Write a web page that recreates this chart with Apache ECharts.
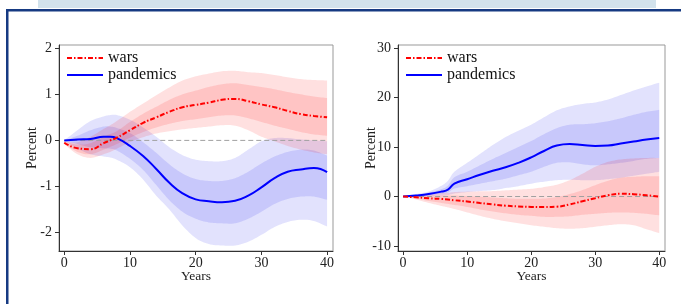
<!DOCTYPE html>
<html>
<head>
<meta charset="utf-8">
<script src="https://cdn.jsdelivr.net/npm/echarts@6/dist/echarts.min.js"></script>
<style>
  html, body { margin: 0; padding: 0; background: #fff; }
  #chart { width: 681px; height: 304px; }
</style>
</head>
<body>
<div id="chart"></div>
<script>
// horizon in years
const years = [0, 2, 4, 6, 7, 8, 10, 12, 14, 16, 18, 20, 22, 24, 26, 28, 30, 32, 34, 36, 38, 40];
const xTicks = [0, 10, 20, 30, 40];
const yTicksLeft = [-2, -1, 0, 1, 2];
const yTicksRight = [-10, 0, 10, 20, 30];

// left panel
const warsL = [-0.05, -0.17, -0.19, -0.06, 0.0, 0.06, 0.22, 0.38, 0.5, 0.62, 0.72, 0.77, 0.82, 0.88, 0.9, 0.85, 0.78, 0.72, 0.64, 0.57, 0.53, 0.5];
const warsL68lo = [-0.07, -0.25, -0.3, -0.2, -0.14, -0.08, 0.06, 0.18, 0.28, 0.36, 0.42, 0.46, 0.5, 0.54, 0.54, 0.48, 0.4, 0.32, 0.25, 0.18, 0.13, 0.1];
const warsL68hi = [-0.03, -0.09, -0.06, 0.08, 0.14, 0.2, 0.4, 0.58, 0.73, 0.88, 1.0, 1.08, 1.16, 1.22, 1.24, 1.2, 1.16, 1.11, 1.05, 1.0, 0.95, 0.92];
const warsL90lo = [-0.08, -0.3, -0.38, -0.3, -0.25, -0.18, -0.04, 0.07, 0.15, 0.2, 0.24, 0.27, 0.3, 0.33, 0.32, 0.22, 0.08, -0.02, -0.12, -0.2, -0.26, -0.3];
const warsL90hi = [-0.02, -0.04, 0.08, 0.25, 0.33, 0.42, 0.62, 0.8, 0.98, 1.15, 1.3, 1.39, 1.45, 1.5, 1.51, 1.48, 1.46, 1.42, 1.37, 1.33, 1.31, 1.3];
const pandL = [0, 0.02, 0.03, 0.08, 0.08, 0.05, -0.12, -0.34, -0.62, -0.92, -1.15, -1.28, -1.32, -1.34, -1.31, -1.2, -1.02, -0.82, -0.68, -0.63, -0.6, -0.69];
const pandL68lo = [0, -0.08, -0.15, -0.17, -0.18, -0.22, -0.4, -0.64, -0.97, -1.3, -1.55, -1.7, -1.78, -1.8, -1.8, -1.7, -1.55, -1.38, -1.27, -1.22, -1.22, -1.29];
const pandL68hi = [0, 0.1, 0.22, 0.3, 0.3, 0.27, 0.16, -0.04, -0.27, -0.52, -0.72, -0.84, -0.88, -0.88, -0.82, -0.68, -0.5, -0.35, -0.25, -0.2, -0.22, -0.33];
const pandL90lo = [0, -0.18, -0.3, -0.35, -0.37, -0.42, -0.58, -0.85, -1.2, -1.5, -1.85, -2.12, -2.25, -2.28, -2.28, -2.2, -2.05, -1.88, -1.77, -1.72, -1.75, -1.87];
const pandL90hi = [0, 0.22, 0.42, 0.52, 0.55, 0.55, 0.45, 0.28, 0.08, -0.15, -0.32, -0.42, -0.45, -0.45, -0.38, -0.2, -0.02, 0.05, 0.05, 0.02, 0.0, -0.02];

// right panel
const warsR = [0, -0.15, -0.35, -0.5, -0.6, -0.75, -1.0, -1.3, -1.6, -1.85, -2.0, -2.1, -2.13, -2.05, -1.6, -0.95, -0.35, 0.25, 0.55, 0.48, 0.25, 0.0];
const warsR68lo = [0, -0.4, -0.9, -1.3, -1.5, -1.7, -2.1, -2.6, -3.0, -3.4, -3.7, -3.9, -4.1, -4.1, -4.0, -3.7, -3.5, -3.3, -3.2, -3.3, -3.5, -3.8];
const warsR68hi = [0, 0.15, 0.2, 0.2, 0.2, 0.2, 0.1, -0.05, -0.2, -0.35, -0.45, -0.45, -0.4, -0.1, 0.5, 1.3, 2.3, 3.2, 3.8, 4.0, 4.1, 4.1];
const warsR90lo = [0, -0.6, -1.3, -1.9, -2.2, -2.5, -3.2, -3.9, -4.5, -5.0, -5.4, -5.8, -6.1, -6.4, -6.5, -6.4, -6.1, -5.8, -5.6, -5.8, -6.6, -7.4];
const warsR90hi = [0, 0.3, 0.5, 0.7, 0.75, 0.9, 1.0, 1.05, 1.1, 1.25, 1.4, 1.55, 1.9, 2.4, 3.3, 4.6, 6.0, 7.0, 7.5, 7.7, 7.8, 7.8];
const pandR = [0, 0.2, 0.5, 1.0, 1.4, 2.6, 3.5, 4.4, 5.2, 5.9, 6.8, 7.9, 9.2, 10.3, 10.6, 10.4, 10.2, 10.3, 10.7, 11.1, 11.5, 11.8];
const pandR68lo = [0, 0.1, 0.3, 0.6, 0.8, 1.6, 2.1, 2.6, 3.1, 3.6, 4.3, 5.0, 6.0, 6.8, 6.9, 6.5, 6.3, 6.5, 6.8, 7.2, 7.6, 7.8];
const pandR68hi = [0, 0.3, 0.8, 1.5, 2.2, 3.9, 5.0, 6.3, 7.6, 8.8, 10.0, 11.2, 12.6, 13.8, 14.5, 14.6, 14.8, 15.2, 15.8, 16.5, 17.1, 17.5];
const pandR90lo = [0, 0.0, 0.1, 0.2, 0.3, 0.6, 0.9, 1.1, 1.3, 1.7, 2.1, 2.6, 3.0, 3.3, 3.4, 3.3, 3.3, 3.5, 3.8, 4.2, 4.6, 5.0];
const pandR90hi = [0, 0.5, 1.0, 2.2, 3.2, 5.0, 6.8, 8.6, 10.4, 12.0, 13.3, 14.5, 16.0, 17.4, 18.2, 18.7, 19.0, 19.6, 20.5, 21.4, 22.2, 23.0];

const zeroLine = [[0, 0], [40, 0]];

const font = "Liberation Serif";
const RED = "#ff0000";
const BLUE = "#0000ff";
const RED_BAND = "rgba(255,0,0,0.12)";
const BLUE_BAND = "rgba(20,20,240,0.12)";

const pairs = (ys) => years.map((x, i) => [x, ys[i]]);

// smooth an edge in pixel space (catmull-rom) so the band outline is not jagged
function smoothEdge(p, steps) {
  const out = [];
  for (let i = 0; i < p.length - 1; i++) {
    const p0 = p[i - 1] || p[i];
    const p1 = p[i];
    const p2 = p[i + 1];
    const p3 = p[i + 2] || p[i + 1];
    for (let s = 0; s < steps; s++) {
      const t = s / steps, t2 = t * t, t3 = t2 * t;
      const f = (a, b, c, d) =>
        0.5 * (2 * b + (-a + c) * t + (2 * a - 5 * b + 4 * c - d) * t2 + (-a + 3 * b - 3 * c + d) * t3);
      out.push([f(p0[0], p1[0], p2[0], p3[0]), f(p0[1], p1[1], p2[1], p3[1])]);
    }
  }
  out.push(p[p.length - 1]);
  return out;
}

function band(panel, lo, hi, color) {
  return {
    type: "custom",
    xAxisIndex: panel,
    yAxisIndex: panel,
    silent: true,
    data: [[20, 0]],
    renderItem: (params, api) => {
      const top = years.map((x, i) => api.coord([x, hi[i]]));
      const bot = years.map((x, i) => api.coord([x, lo[i]])).reverse();
      return {
        type: "polygon",
        shape: { points: smoothEdge(top, 8).concat(smoothEdge(bot, 8)) },
        style: { fill: color },
      };
    },
  };
}

function panelSeries(panel, d) {
  return [
    band(panel, d.p90lo, d.p90hi, BLUE_BAND),
    band(panel, d.p68lo, d.p68hi, BLUE_BAND),
    band(panel, d.w90lo, d.w90hi, RED_BAND),
    band(panel, d.w68lo, d.w68hi, RED_BAND),
    {
      type: "line",
      name: "zero",
      xAxisIndex: panel,
      yAxisIndex: panel,
      data: zeroLine,
      symbol: "none",
      silent: true,
      lineStyle: { color: "#a0a0a0", width: 1, type: [5, 3] },
    },
    {
      type: "line",
      name: "pandemics",
      xAxisIndex: panel,
      yAxisIndex: panel,
      data: pairs(d.pand),
      smooth: true,
      symbol: "none",
      lineStyle: { color: BLUE, width: 2 },
      itemStyle: { color: BLUE },
    },
    {
      type: "line",
      name: "wars",
      xAxisIndex: panel,
      yAxisIndex: panel,
      data: pairs(d.wars),
      smooth: true,
      symbol: "none",
      lineStyle: { color: RED, width: 2, type: [5, 2, 1.5, 2] },
      itemStyle: { color: RED },
    },
  ];
}

function xAxis(grid) {
  return {
    type: "value",
    gridIndex: grid,
    min: -0.8,
    max: 40.9,
    name: "Years",
    nameLocation: "middle",
    nameGap: 18,
    nameMoveOverlap: false,
    nameTextStyle: { fontFamily: font, fontSize: 13.5, color: "#222" },
    axisLine: { show: true, onZero: false, lineStyle: { color: "#333", width: 1 } },
    axisTick: { show: true, customValues: xTicks, length: 4, lineStyle: { color: "#333" } },
    axisLabel: { customValues: xTicks, margin: 5, fontFamily: font, fontSize: 14, color: "#222" },
    splitLine: { show: false },
  };
}

function yAxis(grid, min, max, ticks) {
  return {
    type: "value",
    gridIndex: grid,
    min: min,
    max: max,
    name: "Percent",
    nameLocation: "middle",
    nameGap: 20,
    nameMoveOverlap: false,
    nameTextStyle: { fontFamily: font, fontSize: 14, color: "#222" },
    axisLine: { show: true, onZero: false, lineStyle: { color: "#333", width: 1 } },
    axisTick: { show: true, customValues: ticks, length: 4, lineStyle: { color: "#333" } },
    axisLabel: { customValues: ticks, margin: 7, fontFamily: font, fontSize: 14, color: "#222" },
    splitLine: { show: false },
  };
}

function legend(left) {
  return {
    data: ["wars", "pandemics"],
    orient: "vertical",
    left: left,
    top: 50,
    padding: 0,
    itemWidth: 36,
    itemHeight: 14,
    itemGap: 1,
    selectedMode: false,
    itemStyle: { color: "rgba(0,0,0,0)", borderWidth: 0, opacity: 0 },
    textStyle: { fontFamily: font, fontSize: 16, color: "#111" },
  };
}

const chart = echarts.init(document.getElementById("chart"));

chart.setOption({
  animation: false,
  backgroundColor: "#fff",
  graphic: [
    { type: "rect", shape: { x: 38, y: 0, width: 618, height: 8 }, style: { fill: "#d2e2ec" } },
    { type: "rect", shape: { x: 6, y: 9, width: 675, height: 2.5 }, style: { fill: "#163a82" } },
    { type: "rect", shape: { x: 6, y: 9, width: 2.5, height: 295 }, style: { fill: "#163a82" } },
  ],
  grid: [
    { left: 59, top: 45, width: 274, height: 206, show: true, borderColor: "#999", borderWidth: 1 },
    { left: 398, top: 45, width: 267, height: 206, show: true, borderColor: "#999", borderWidth: 1 },
  ],
  legend: [legend(66), legend(405)],
  xAxis: [xAxis(0), xAxis(1)],
  yAxis: [yAxis(0, -2.4, 2.07, yTicksLeft), yAxis(1, -11, 30.6, yTicksRight)],
  series: [
    ...panelSeries(0, {
      wars: warsL, w68lo: warsL68lo, w68hi: warsL68hi, w90lo: warsL90lo, w90hi: warsL90hi,
      pand: pandL, p68lo: pandL68lo, p68hi: pandL68hi, p90lo: pandL90lo, p90hi: pandL90hi,
    }),
    ...panelSeries(1, {
      wars: warsR, w68lo: warsR68lo, w68hi: warsR68hi, w90lo: warsR90lo, w90hi: warsR90hi,
      pand: pandR, p68lo: pandR68lo, p68hi: pandR68hi, p90lo: pandR90lo, p90hi: pandR90hi,
    }),
  ],
});
</script>
</body>
</html>
